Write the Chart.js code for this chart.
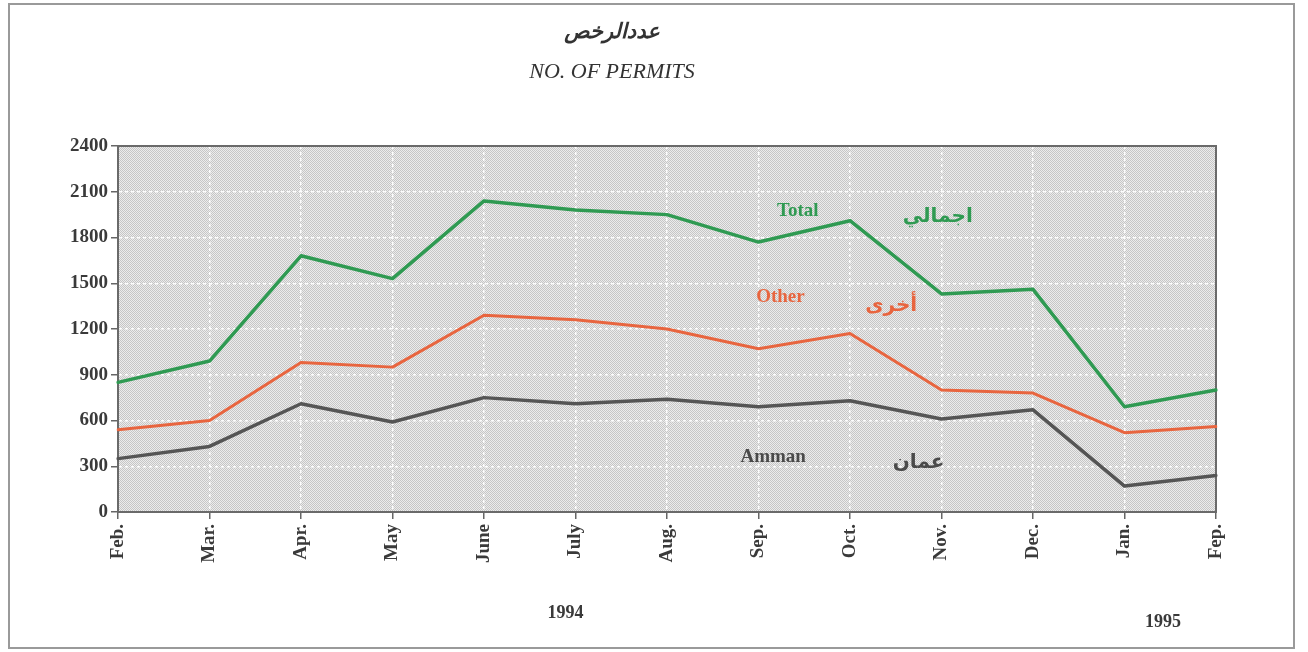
<!DOCTYPE html>
<html>
<head>
<meta charset="utf-8">
<script src="https://cdn.jsdelivr.net/npm/chart.js@4/dist/chart.umd.min.js"></script>
<style>
  body { margin: 0; background: #fff; }
</style>
</head>
<body>
<canvas id="permits" width="1308" height="652"></canvas>
<script>
const MONTHS = ["Feb.", "Mar.", "Apr.", "May", "June", "July", "Aug.", "Sep.", "Oct.", "Nov.", "Dec.", "Jan.", "Fep."];
const TOTAL = [850, 990, 1680, 1530, 2040, 1980, 1950, 1770, 1910, 1430, 1460, 690, 800];
const OTHER = [540, 600, 980, 950, 1290, 1260, 1200, 1070, 1170, 800, 780, 520, 560];
const AMMAN = [350, 430, 710, 590, 750, 710, 740, 690, 730, 610, 670, 170, 240];
const Y_TICKS = [0, 300, 600, 900, 1200, 1500, 1800, 2100, 2400];
const YEARS = ["1994", "1995"];

// series labels inside the plot: [text, category index, value, colour]
const SERIES_LABELS = [
  ["Total", 7.43, 1975, "#2f9a52"],
  ["اجمالي", 8.96, 1935, "#2f9a52"],
  ["Other", 7.24, 1410, "#e8653f"],
  ["أخرى", 8.45, 1355, "#e8653f"],
  ["Amman", 7.16, 361, "#4a4a4a"],
  ["عمان", 8.75, 320, "#4a4a4a"],
];

const SERIF = "'Liberation Serif', 'DejaVu Serif', serif";

// stippled gray plot background
function makePattern() {
  const c = document.createElement("canvas");
  c.width = 2;
  c.height = 2;
  const g = c.getContext("2d");
  g.fillStyle = "#ececec";
  g.fillRect(0, 0, 2, 2);
  g.fillStyle = "#c6c6c6";
  g.fillRect(0, 0, 1, 1);
  g.fillRect(1, 1, 1, 1);
  return g.createPattern(c, "repeat");
}

const decorPlugin = {
  id: "decor",
  beforeDraw(chart) {
    const { ctx, chartArea: a } = chart;
    ctx.save();
    ctx.fillStyle = "#fff";
    ctx.fillRect(0, 0, chart.width, chart.height);
    ctx.fillStyle = makePattern();
    ctx.fillRect(a.left, a.top, a.right - a.left, a.bottom - a.top);
    ctx.restore();
  },
  beforeDatasetsDraw(chart) {
    const { ctx, chartArea: a } = chart;
    ctx.save();
    ctx.strokeStyle = "#6a6a6a";
    ctx.lineWidth = 2;
    ctx.strokeRect(a.left, a.top, a.right - a.left, a.bottom - a.top);
    ctx.restore();
  },
  afterDraw(chart) {
    const { ctx, scales } = chart;
    const x = scales.x, y = scales.y;
    ctx.save();

    // outer frame
    ctx.strokeStyle = "#9a9a9a";
    ctx.lineWidth = 2;
    ctx.strokeRect(9, 4, 1285, 644);

    // titles
    ctx.textAlign = "center";
    ctx.textBaseline = "middle";
    ctx.fillStyle = "#333";
    ctx.font = "italic bold 21px 'DejaVu Sans', sans-serif";
    ctx.fillText("عددالرخص", 612, 33);
    ctx.font = "italic 22px " + SERIF;
    ctx.fillText("NO. OF PERMITS", 612, 72);

    // series labels
    SERIES_LABELS.forEach(([txt, idx, val, col]) => {
      const arabic = /[\u0600-\u06ff]/.test(txt);
      ctx.fillStyle = col;
      ctx.font = arabic ? "bold 20px 'DejaVu Sans', sans-serif" : "bold 19px " + SERIF;
      ctx.fillText(txt, x.getPixelForValue(idx), y.getPixelForValue(val));
    });

    // years under the axis
    ctx.fillStyle = "#3a3a3a";
    ctx.font = "bold 18px " + SERIF;
    ctx.fillText(YEARS[0], x.getPixelForValue(4.89), 613);
    ctx.fillText(YEARS[1], x.getPixelForValue(11.42), 622);
    ctx.restore();
  },
};

const gridOpts = {
  color: "rgba(255,255,255,0.95)",
  lineWidth: 1.5,
  tickColor: "#666",
  tickLength: 7,
  tickWidth: 1.5,
  tickBorderDash: [],
};

const tickFont = { family: SERIF, size: 19, weight: "bold" };

const ctx = document.getElementById("permits").getContext("2d");

new Chart(ctx, {
  type: "line",
  data: {
    labels: MONTHS,
    datasets: [
      { label: "Total", data: TOTAL, borderColor: "#2f9a52", borderWidth: 3.5 },
      { label: "Other", data: OTHER, borderColor: "#e8653f", borderWidth: 3 },
      { label: "Amman", data: AMMAN, borderColor: "#555555", borderWidth: 3.5 },
    ],
  },
  options: {
    responsive: false,
    animation: false,
    elements: {
      point: { radius: 0 },
      line: { tension: 0, borderJoinStyle: "round", borderCapStyle: "round" },
    },
    layout: { padding: { left: 10, top: 146, right: 92, bottom: 20 } },
    plugins: {
      legend: { display: false },
      tooltip: { enabled: false },
    },
    scales: {
      x: {
        offset: false,
        afterFit: (s) => { s.height = 120; },
        grid: gridOpts,
        border: { display: true, color: "#666", width: 2, dash: [3, 3] },
        ticks: {
          maxRotation: 90,
          minRotation: 90,
          padding: 5,
          color: "#3a3a3a",
          font: tickFont,
        },
      },
      y: {
        min: 0,
        max: 2400,
        afterFit: (s) => { s.width = 108; },
        afterBuildTicks: (s) => { s.ticks = Y_TICKS.map((v) => ({ value: v })); },
        grid: gridOpts,
        border: { display: true, color: "#666", width: 2, dash: [3, 3] },
        ticks: {
          padding: 3,
          color: "#3a3a3a",
          font: tickFont,
          callback: (v) => String(v),
        },
      },
    },
  },
  plugins: [decorPlugin],
});
</script>
</body>
</html>
